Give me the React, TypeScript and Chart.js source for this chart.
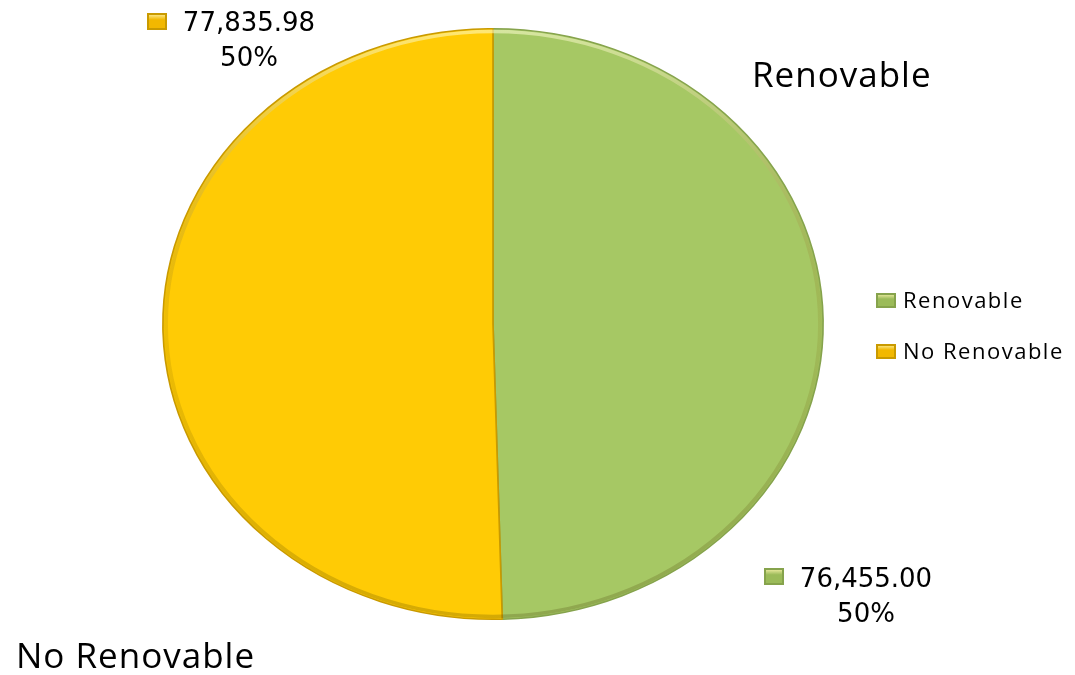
import React, { useEffect, useRef } from "react";
import { Chart, registerables } from "chart.js";

Chart.register(...registerables);

const categories = ["Renovable", "No Renovable"];
const values = [76455.0, 77835.98];
const sliceColors = ["#A6C864", "#FFCB05"];
const sliceBorders = ["#86A34C", "#C99A00"];
const markerColors = ["#9BBB59", "#F2B800"];

const fmt = (v: number) =>
  v.toLocaleString("en-US", { minimumFractionDigits: 2, maximumFractionDigits: 2 });

const SX = 1.118;

const stretchPlugin = {
  id: "stretch",
  beforeDatasetsDraw(chart: any) {
    const meta = chart.getDatasetMeta(0);
    const arc = meta.data[0];
    if (!arc) return;
    const ctx = chart.ctx;
    ctx.save();
    ctx.translate(arc.x, arc.y);
    ctx.scale(SX, 1);
    ctx.translate(-arc.x, -arc.y);
  },
  afterDatasetsDraw(chart: any) {
    const ctx: CanvasRenderingContext2D = chart.ctx;
    const arc = chart.getDatasetMeta(0).data[0];
    if (arc) {
      // subtle bevel rim
      const r = arc.outerRadius;
      ctx.save();
      ctx.beginPath();
      ctx.arc(arc.x, arc.y, r - 1, 0, Math.PI * 2);
      ctx.clip();
      const g = ctx.createLinearGradient(0, arc.y - r, 0, arc.y + r);
      g.addColorStop(0, "rgba(255,255,210,0.55)");
      g.addColorStop(0.5, "rgba(120,90,0,0.12)");
      g.addColorStop(1, "rgba(60,50,0,0.22)");
      ctx.strokeStyle = g;
      ctx.lineWidth = 7;
      ctx.beginPath();
      ctx.arc(arc.x, arc.y, r - 1, 0, Math.PI * 2);
      ctx.stroke();
      ctx.restore();
    }
    ctx.restore();
  },
};

const drawMarker = (ctx: CanvasRenderingContext2D, x: number, y: number, w: number, h: number, fill: string, stroke: string) => {
  const g = ctx.createLinearGradient(x, y, x, y + h);
  g.addColorStop(0, "#FFF6B0");
  g.addColorStop(0.4, fill);
  g.addColorStop(1, fill);
  ctx.fillStyle = stroke;
  ctx.fillRect(x, y, w, h);
  ctx.fillStyle = g;
  ctx.fillRect(x + 2, y + 2, w - 4, h - 4);
};

const textPlugin = {
  id: "texts",
  afterDraw(chart: any) {
    const ctx: CanvasRenderingContext2D = chart.ctx;
    const labels: string[] = chart.data.labels;
    const data: number[] = chart.data.datasets[0].data;
    const total = data.reduce((a, b) => a + b, 0);
    ctx.save();
    ctx.fillStyle = "#000";
    ctx.textBaseline = "alphabetic";

    // Big category titles
    ctx.font = "35px 'Open Sans'";
    (ctx as any).letterSpacing = "1px";
    ctx.textAlign = "left";
    ctx.fillText(labels[0], 752, 87);
    ctx.fillText(labels[1], 16, 668);

    // Data labels
    ctx.font = "26px 'DejaVu Sans'";
    (ctx as any).letterSpacing = "0px";
    ctx.textAlign = "center";
    const dl = [
      { cx: 866, y1: 587, y2: 622, mx: 764, my: 568 },
      { cx: 249, y1: 31, y2: 66, mx: 147, my: 13 },
    ];
    dl.forEach((p, i) => {
      const v = data[i];
      ctx.fillStyle = "#000";
      ctx.fillText(fmt(v), p.cx, p.y1);
      ctx.fillText(Math.round((v / total) * 100) + "%", p.cx, p.y2);
      drawMarker(ctx, p.mx, p.my, 20, 17, markerColors[i], sliceBorders[i]);
    });

    // Legend
    ctx.textAlign = "left";
    ctx.font = "22px 'Open Sans'";
    (ctx as any).letterSpacing = "1.5px";
    labels.forEach((l, i) => {
      const y = 308 + i * 51;
      drawMarker(ctx, 876, y - 15, 20, 15, markerColors[i], sliceBorders[i]);
      ctx.fillStyle = "#000";
      ctx.fillText(l, 903, y);
    });
    ctx.restore();
  },
};

export default function App() {
  const ref = useRef<HTMLCanvasElement>(null);
  useEffect(() => {
    if (!ref.current) return;
    const chart = new Chart(ref.current, {
      type: "pie",
      data: {
        labels: categories,
        datasets: [
          {
            data: values,
            backgroundColor: sliceColors,
            borderColor: sliceBorders,
            borderWidth: 1.5,
          },
        ],
      },
      options: {
        responsive: false,
        animation: false,
        layout: { padding: { left: 197, right: 286, top: 28, bottom: 55 } },
        plugins: {
          legend: { display: false },
          tooltip: { enabled: false },
          title: { display: false },
        },
      },
      plugins: [stretchPlugin, textPlugin],
    });
    return () => chart.destroy();
  }, []);
  return (
    <canvas
      ref={ref}
      width={1075}
      height={675}
      style={{ position: "absolute", left: 0, top: 0, width: 1075, height: 675, background: "#fff" }}
    />
  );
}
